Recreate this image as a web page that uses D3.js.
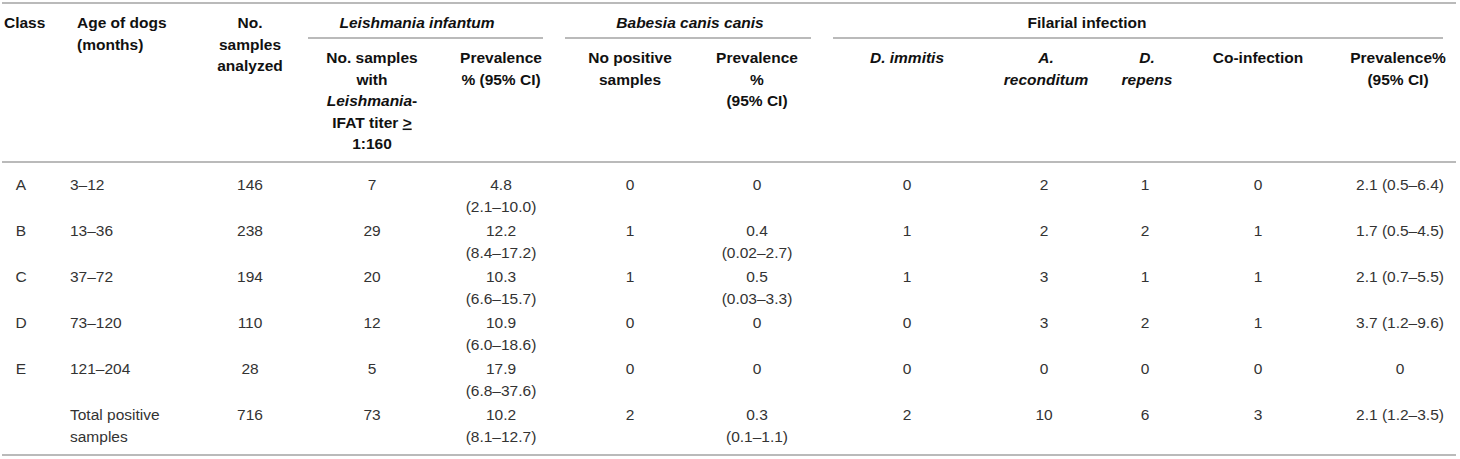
<!DOCTYPE html>
<html>
<head>
<meta charset="utf-8">
<script src="https://cdn.jsdelivr.net/npm/d3@7"></script>
<style>
  body { margin: 0; background: #fff; }
  svg { display: block; font-family: "Liberation Sans", Arial, Helvetica, sans-serif; }
  .hd { font-weight: bold; font-size: 15.5px; fill: #111; }
  .bd { font-size: 15.5px; fill: #333; }
  .rule { stroke: #a3a3a3; stroke-width: 1.5; }
</style>
</head>
<body>
<div id="chart"></div>
<script>
// table values
var classes = ["A", "B", "C", "D", "E", ""];
var ages = ["3–12", "13–36", "37–72", "73–120", "121–204", "Total positive|samples"];
var analyzed = [146, 238, 194, 110, 28, 716];
var leishPos = [7, 29, 20, 12, 5, 73];
var leishPrev = ["4.8", "12.2", "10.3", "10.9", "17.9", "10.2"];
var leishCI = ["2.1–10.0", "8.4–17.2", "6.6–15.7", "6.0–18.6", "6.8–37.6", "8.1–12.7"];
var babesiaPos = [0, 1, 1, 0, 0, 2];
var babesiaPrev = ["0", "0.4", "0.5", "0", "0", "0.3"];
var babesiaCI = [null, "0.02–2.7", "0.03–3.3", null, null, "0.1–1.1"];
var immitis = [0, 1, 1, 0, 0, 2];
var reconditum = [2, 2, 3, 3, 0, 10];
var repens = [1, 2, 1, 2, 0, 6];
var coInfection = [0, 1, 1, 1, 0, 3];
var filarialPrev = ["2.1 (0.5–6.4)", "1.7 (0.5–4.5)", "2.1 (0.7–5.5)", "3.7 (1.2–9.6)", "0", "2.1 (1.2–3.5)"];

var width = 1460, height = 459;

var svg = d3.select("#chart").append("svg")
    .attr("width", width)
    .attr("height", height);

// column positions
var colKeys = ["cls", "age", "n", "lpos", "lprev", "bpos", "bprev", "imm", "rec", "rep", "co", "fprev"];
var colX = d3.scaleOrdinal()
    .domain(colKeys)
    .range([21, 70, 250, 372, 501, 630, 757, 907, 1044, 1145, 1258, 1400]);

var rowY = d3.scalePoint()
    .domain(d3.range(classes.length))
    .range([190, 190 + 46 * (classes.length - 1)]);

var lineH = 22;

// rules
var rules = [
    [2, 1456, 3], [2, 1456, 162], [2, 1456, 455],
    [308, 543, 38], [565, 811, 38], [833, 1443, 38]
];
svg.selectAll("line.rule")
    .data(rules)
    .enter().append("line")
    .attr("class", "rule")
    .attr("x1", function(d) { return d[0]; })
    .attr("x2", function(d) { return d[1]; })
    .attr("y1", function(d) { return d[2]; })
    .attr("y2", function(d) { return d[2]; });

// header cells: each line is a list of [text, italic, underline]
var headers = [
    {x: 4, y: 28, anchor: "start", lines: [[["Class"]]]},
    {x: 77, y: 28, anchor: "start", lines: [[["Age of dogs"]], [["(months)"]]]},
    {x: colX("n"), y: 28, anchor: "middle", lines: [[["No."]], [["samples"]], [["analyzed"]]]},
    {x: 417, y: 28, anchor: "middle", lines: [[["Leishmania infantum", true]]]},
    {x: 690, y: 28, anchor: "middle", lines: [[["Babesia canis canis", true]]]},
    {x: 1087, y: 28, anchor: "middle", lines: [[["Filarial infection"]]]},
    {x: colX("lpos"), y: 63, anchor: "middle",
        lines: [[["No. samples"]], [["with"]], [["Leishmania", true], ["-"]], [["IFAT titer "], [">", false, true]], [["1:160"]]]},
    {x: colX("lprev"), y: 63, anchor: "middle", lines: [[["Prevalence"]], [["% (95% CI)"]]]},
    {x: colX("bpos"), y: 63, anchor: "middle", lines: [[["No positive"]], [["samples"]]]},
    {x: colX("bprev"), y: 63, anchor: "middle", lines: [[["Prevalence"]], [["%"]], [["(95% CI)"]]]},
    {x: colX("imm"), y: 63, anchor: "middle", lines: [[["D. immitis", true]]]},
    {x: 1046, y: 63, anchor: "middle", lines: [[["A.", true]], [["reconditum", true]]]},
    {x: 1147, y: 63, anchor: "middle", lines: [[["D.", true]], [["repens", true]]]},
    {x: colX("co"), y: 63, anchor: "middle", lines: [[["Co-infection"]]]},
    {x: 1398, y: 63, anchor: "middle", lines: [[["Prevalence%"]], [["(95% CI)"]]]}
];

var hd = svg.append("g").selectAll("text")
    .data(headers)
    .enter().append("text")
    .attr("class", "hd")
    .attr("text-anchor", function(d) { return d.anchor; });

hd.each(function(d) {
    var t = d3.select(this);
    d.lines.forEach(function(line, li) {
        line.forEach(function(part, pi) {
            var span = t.append("tspan")
                .text(part[0])
                .style("font-style", part[1] ? "italic" : null)
                .style("text-decoration", part[2] ? "underline" : null);
            if (pi === 0) span.attr("x", d.x).attr("y", d.y + li * 21.5);
        });
    });
});

// body cells
var cells = [];
classes.forEach(function(c, i) {
    cells.push({col: "cls", row: i, lines: [c]});
    cells.push({col: "age", row: i, lines: ages[i].split("|"), anchor: "start"});
    cells.push({col: "n", row: i, lines: [analyzed[i]]});
    cells.push({col: "lpos", row: i, lines: [leishPos[i]]});
    cells.push({col: "lprev", row: i, lines: [leishPrev[i], "(" + leishCI[i] + ")"]});
    cells.push({col: "bpos", row: i, lines: [babesiaPos[i]]});
    cells.push({col: "bprev", row: i, lines: babesiaCI[i] ? [babesiaPrev[i], "(" + babesiaCI[i] + ")"] : [babesiaPrev[i]]});
    cells.push({col: "imm", row: i, lines: [immitis[i]]});
    cells.push({col: "rec", row: i, lines: [reconditum[i]]});
    cells.push({col: "rep", row: i, lines: [repens[i]]});
    cells.push({col: "co", row: i, lines: [coInfection[i]]});
    cells.push({col: "fprev", row: i, lines: [filarialPrev[i]]});
});

svg.append("g").selectAll("text")
    .data(cells)
    .enter().append("text")
    .attr("class", "bd")
    .attr("text-anchor", function(d) { return d.anchor || "middle"; })
    .each(function(d) {
        var t = d3.select(this);
        d.lines.forEach(function(l, li) {
            t.append("tspan")
                .attr("x", colX(d.col))
                .attr("y", rowY(d.row) + li * lineH)
                .text(l);
        });
    });
</script>
</body>
</html>
